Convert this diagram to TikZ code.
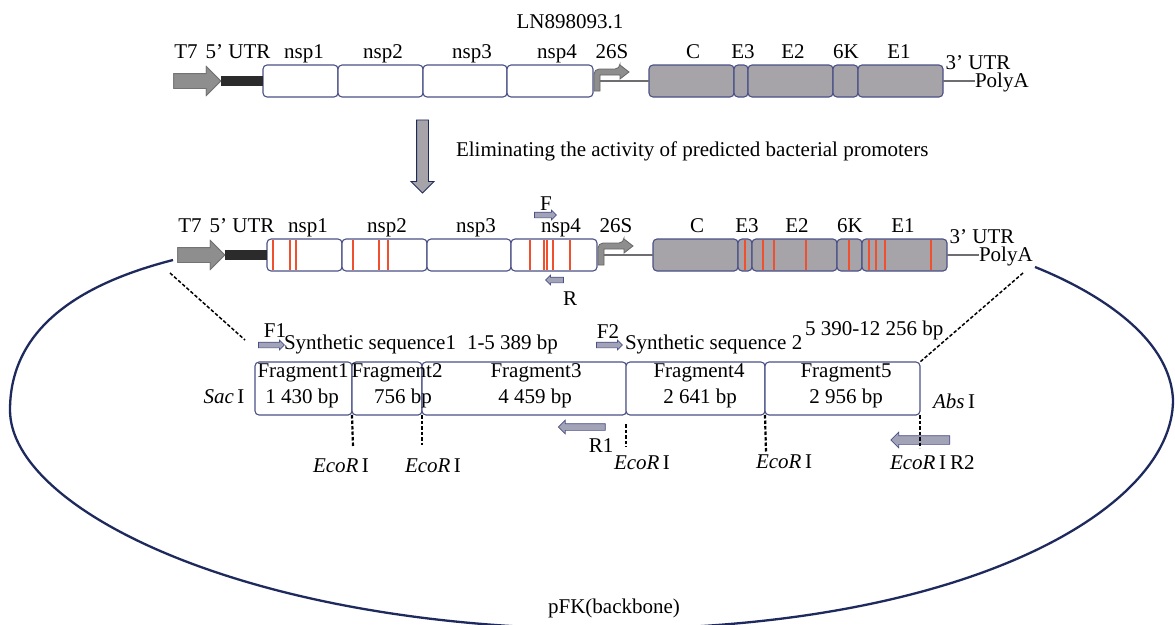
\documentclass[tikz,border=0pt]{standalone}
\usepackage{fontspec}
\setmainfont{Liberation Serif}
\usetikzlibrary{shapes.arrows}
\definecolor{boxline}{HTML}{4A5086}
\definecolor{gfill}{HTML}{A6A4A9}
\definecolor{redl}{HTML}{F0502E}
\definecolor{navy}{HTML}{1E2A5E}
\definecolor{pfill}{HTML}{A3A3B8}
\definecolor{tfill}{HTML}{8E8E8E}
\definecolor{barc}{HTML}{2B2B2B}
\definecolor{conn}{HTML}{6E6E72}
\begin{document}
\begin{tikzpicture}[x=1pt,y=-1pt,
  every node/.style={font=\fontsize{21}{24}\selectfont, inner sep=0pt, outer sep=0pt},
  lab/.style={anchor=base},
  labw/.style={anchor=base west},
  wbox/.style={draw=boxline, fill=white, rounded corners=4pt, line width=1.1pt, minimum height=32pt},
  gbox/.style={wbox, fill=gfill},
  fbox/.style={draw=boxline, fill=white, rounded corners=4pt, line width=1.1pt, minimum height=53pt},
  tarrow/.style={single arrow, draw=black!55, fill=tfill, minimum height=47pt, inner xsep=0pt, inner ysep=7pt, single arrow head extend=7pt, line width=0.8pt},
  primer/.style={single arrow, draw=boxline, fill=pfill, line width=0.7pt, inner xsep=0pt, inner ysep=2.5pt, single arrow head extend=2pt},
  primerl/.style={primer, shape border rotate=180},
  bent/.style={draw=black!60, fill=tfill, line width=0.8pt},
  redline/.style={draw=redl, line width=1.1pt},
  connline/.style={draw=conn, line width=1.1pt},
  barline/.style={draw=barc, line width=10pt},
  ecod/.style={draw=black, line width=2.2pt, dash pattern=on 3.5pt off 2pt},
  diagd/.style={draw=black, line width=1.5pt, dash pattern=on 3.5pt off 2pt},
  backbone/.style={draw=navy, line width=2.3pt}
]
\useasboundingbox (0,0) rectangle (1175,624);
\fill[white] (0,0) rectangle (1175,624);
\clip (0,0) rectangle (1175,624);

\node[lab] (acc) at (570,28) {LN898093.1};

% ---------- Row 1 ----------
\begin{scope}
\node[wbox, minimum width=75pt] (an1) at (300.5,81) {};
\node[wbox, minimum width=85pt] (an2) at (380.5,81) {};
\node[wbox, minimum width=84pt] (an3) at (465,81) {};
\node[wbox, minimum width=86pt] (an4) at (550,81) {};
\node[gbox, minimum width=85pt] (aC) at (691.5,81) {};
\node[gbox, minimum width=14pt] (aE3) at (741,81) {};
\node[gbox, minimum width=85pt] (aE2) at (790.5,81) {};
\node[gbox, minimum width=25pt] (a6K) at (845.5,81) {};
\node[gbox, minimum width=85pt] (aE1) at (900.5,81) {};
\node[tarrow] (aT7) at (193.5,81) {};
\draw[barline] (aT7.tip) -- (an1.west);
\node[tarrow] at (193.5,81) {};
\draw[bent] (594,91) [rounded corners=5pt] -- (594,69) -- (620,69) [sharp corners] -- (620,65) -- (629,72) -- (620,79) -- (620,75) -- (600,75) -- (600,91) -- cycle;
\coordinate (ab) at (600,81);
\node[lab] (aT7l) at (186,58) {T7};
\node[lab] (aUTR5) at (238,58) {5’ UTR};
\node[lab] (an1l) at (304,58) {nsp1};
\node[lab] (an2l) at (383,58) {nsp2};
\node[lab] (an3l) at (472,58) {nsp3};
\node[lab] (an4l) at (557,58) {nsp4};
\node[lab] (a26S) at (612,58) {26S};
\node[lab] (aCl) at (693,58) {C};
\node[lab] (aE3l) at (743,58) {E3};
\node[lab] (aE2l) at (793,58) {E2};
\node[lab] (a6Kl) at (846,58) {6K};
\node[lab] (aE1l) at (899,58) {E1};
\node[lab] (aUTR3) at (978,69) {3’ UTR};
\node[labw] (aPolyA) at (975,87) {PolyA};
\draw[connline] (ab) -- (aC.west);
\draw[connline] (aE1.east) -- (aE1.east -| aPolyA.west);
\end{scope}

% ---------- processing arrow ----------
\node[single arrow, shape border rotate=270, draw=navy, fill=gfill, line width=0.9pt,
      minimum height=73pt, inner xsep=5.5pt, inner ysep=0pt, single arrow head extend=5.5pt] (down) at (422.5,153.5) {};
\node[labw] (elim) at (456,156) {Eliminating the activity of predicted bacterial promoters};

% ---------- Row 2 ----------
\begin{scope}[shift={(4,174)}]
\node[wbox, minimum width=75pt] (bn1) at (300.5,81) {};
\node[wbox, minimum width=85pt] (bn2) at (380.5,81) {};
\node[wbox, minimum width=84pt] (bn3) at (465,81) {};
\node[wbox, minimum width=86pt] (bn4) at (550,81) {};
\node[gbox, minimum width=85pt] (bC) at (691.5,81) {};
\node[gbox, minimum width=14pt] (bE3) at (741,81) {};
\node[gbox, minimum width=85pt] (bE2) at (790.5,81) {};
\node[gbox, minimum width=25pt] (b6K) at (845.5,81) {};
\node[gbox, minimum width=85pt] (bE1) at (900.5,81) {};
\node[tarrow] (bT7) at (193.5,81) {};
\draw[barline] (bT7.tip) -- (bn1.west);
\node[tarrow] at (193.5,81) {};
\draw[bent] (594,91) [rounded corners=5pt] -- (594,69) -- (620,69) [sharp corners] -- (620,65) -- (629,72) -- (620,79) -- (620,75) -- (600,75) -- (600,91) -- cycle;
\coordinate (bb) at (600,81);
\node[lab] (bT7l) at (186,58) {T7};
\node[lab] (bUTR5) at (238,58) {5’ UTR};
\node[lab] (bn1l) at (304,58) {nsp1};
\node[lab] (bn2l) at (383,58) {nsp2};
\node[lab] (bn3l) at (472,58) {nsp3};
\node[lab] (bn4l) at (557,58) {nsp4};
\node[lab] (b26S) at (612,58) {26S};
\node[lab] (bCl) at (693,58) {C};
\node[lab] (bE3l) at (743,58) {E3};
\node[lab] (bE2l) at (793,58) {E2};
\node[lab] (b6Kl) at (846,58) {6K};
\node[lab] (bE1l) at (899,58) {E1};
\node[lab] (bUTR3) at (978,69) {3’ UTR};
\node[labw] (bPolyA) at (975,87) {PolyA};
\draw[connline] (bb) -- (bC.west);
\draw[connline] (bE1.east) -- (bE1.east -| bPolyA.west);
\end{scope}

% red mutation lines (row 2)
\foreach \x in {273,290,296,353,379,388,530,544,547,553,570,745,763,774,806,849,869,876,885,931}
  \draw[redline] (\x,240) -- (\x,270);

% primers F and R
\node[primer, minimum height=22pt] (pF) at (544,215) {};
\node[lab] (pFl) at (546,210) {F};
\node[primerl, minimum height=18pt] (pR) at (556,280) {};
\node[lab] (pRl) at (570,305) {R};

% ---------- backbone ----------
\coordinate (bk1) at (173,260);
\coordinate (bk2) at (1035,267);
\draw[backbone] (bk1) .. controls (95,280) and (10,320) .. (10,410)
   .. controls (10,510) and (250,629) .. (607,629)
   .. controls (964,629) and (1173,510) .. (1173,400)
   .. controls (1170,330) and (1080,285) .. (bk2);
\node[lab] (pfk) at (614,613) {pFK(backbone)};

% ---------- fragments ----------
\node[fbox, minimum width=97pt] (f1) at (303.5,388.5) {};
\node[fbox, minimum width=70pt] (f2) at (387,388.5) {};
\node[fbox, minimum width=204.5pt] (f3) at (524.25,388.5) {};
\node[fbox, minimum width=139pt] (f4) at (695.5,388.5) {};
\node[fbox, minimum width=155pt] (f5) at (842.5,388.5) {};
\node[lab] (f1a) at (303,377) {Fragment1};
\node[lab] (f1b) at (302,403) {1 430 bp};
\node[lab] (f2a) at (397,377) {Fragment2};
\node[lab] (f2b) at (403,403) {756 bp};
\node[lab] (f3a) at (536,377) {Fragment3};
\node[lab] (f3b) at (535,403) {4 459 bp};
\node[lab] (f4a) at (699,377) {Fragment4};
\node[lab] (f4b) at (700,403) {2 641 bp};
\node[lab] (f5a) at (846,377) {Fragment5};
\node[lab] (f5b) at (846,403) {2 956 bp};

\node[lab] (sac) at (224,403) {\textit{Sac}\,I};
\node[lab] (abs) at (954,408) {\textit{Abs}\,I};

% synthetic sequences and primers
\node[primer, minimum height=26pt] (pF1) at (270,345) {};
\node[lab] (pF1l) at (275,337) {F1};
\node[labw] (s1) at (284,349) {Synthetic sequence1};
\node[labw] (s1r) at (467,349) {1-5 389 bp};
\node[primer, minimum height=26pt] (pF2) at (608,345) {};
\node[lab] (pF2l) at (608,338) {F2};
\node[labw] (s2) at (625,349) {Synthetic sequence 2};
\node[labw] (s2r) at (805,335) {5 390-12 256 bp};
\node[primerl, minimum height=47pt, inner ysep=3pt, single arrow head extend=3.5pt] (pR1) at (583.5,427) {};
\node[lab] (pR1l) at (601,452) {R1};
\node[primerl, minimum height=59pt, inner ysep=4pt, single arrow head extend=3.5pt] (pR2) at (922.5,440) {};

% EcoRI sites
\coordinate (e1) at (353,447);
\coordinate (e2) at (422,445);
\coordinate (e3) at (626,447);
\coordinate (e4) at (766,452);
\coordinate (e5) at (920,448);
\draw[ecod] (f1.south east) -- (e1);
\draw[ecod] (f2.south east) -- (e2);
\draw[ecod] (626,424) -- (e3);
\draw[ecod] (f4.south east) -- (e4);
\draw[ecod] (f5.south east) -- (e5);
\node[lab] (eco1) at (341,472) {\textit{EcoR}\,I};
\node[lab] (eco2) at (433,472) {\textit{EcoR}\,I};
\node[lab] (eco3) at (642,469) {\textit{EcoR}\,I};
\node[lab] (eco4) at (784,468) {\textit{EcoR}\,I};
\node[lab] (eco5) at (918,469) {\textit{EcoR}\,I};
\node[labw] (pR2l) at (950,469) {R2};

% zoom lines
\coordinate (zl1) at (170,273);
\coordinate (zl2) at (245,340);
\coordinate (zr1) at (1023,273);
\draw[diagd] (zl1) -- (zl2);
\draw[diagd] (zr1) -- (f5.north east);
\end{tikzpicture}
\end{document}
